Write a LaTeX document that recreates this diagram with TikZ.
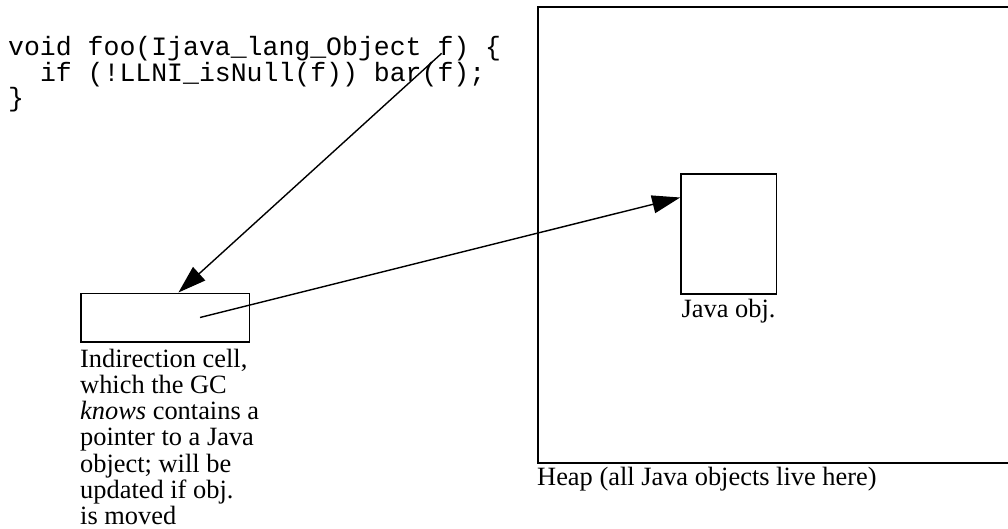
\documentclass[tikz,border=0pt]{standalone}
\usepackage{fontspec}
\setmainfont{Liberation Serif}
\setmonofont{Liberation Mono}
\usetikzlibrary{arrows.meta,calc}

\tikzset{
  box/.style={draw, line width=1.6pt, inner sep=0pt, fill=none},
  label text/.style={inner sep=0pt, font=\fontsize{26.4}{26.3}\selectfont},
  code text/.style={inner sep=0pt, align=left, font=\ttfamily\fontsize{26.5}{25.5}\selectfont},
  pointer/.style={line width=1.4pt, -{Triangle[length=28pt,width=18pt]}},
}

\begin{document}
\begin{tikzpicture}[x=1pt, y=-1pt]
  \useasboundingbox (0,0) rectangle (1008,529);
  \clip (0,0) rectangle (1008,529);

  % C source using the indirection cell (anchored on its last line)
  \node[code text, anchor=base west] (code) at (8,107)
    {void foo(Ijava\_lang\_Object f) \{\\
     \ \ if (!LLNI\_isNull(f)) bar(f);\\
     \}};
  \coordinate (fref) at (441.7,53.3);

  % heap region (runs past the right edge)
  \node[box, anchor=north west, minimum width=520pt, minimum height=456pt] (heap) at (537,6) {};
  \node[label text, anchor=base west] (heaplabel) at (537,485) {Heap (all Java objects live here)};

  % Java object inside the heap
  \node[box, minimum width=95.7pt, minimum height=120pt] (obj) at (728.8,234) {};
  \node[label text, anchor=base] (objlabel) at (728.5,317) {Java obj.};

  % indirection cell
  \node[box, minimum width=168.6pt, minimum height=48.4pt] (cell) at (165,317.5) {};
  \node[label text, anchor=base west, align=left] (celllabel) at (80,524.8)
    {Indirection cell,\\ which the GC\\ \emph{knows} contains a\\ pointer to a Java\\
     object; will be\\ updated if obj.\\ is moved};

  % pointers
  \draw[pointer] (fref) -- ($(cell.north west)!0.579!(cell.north east)$);
  \draw[pointer] ([xshift=35pt]cell.center) -- ([yshift=-24.3pt]obj.north west);
\end{tikzpicture}
\end{document}
